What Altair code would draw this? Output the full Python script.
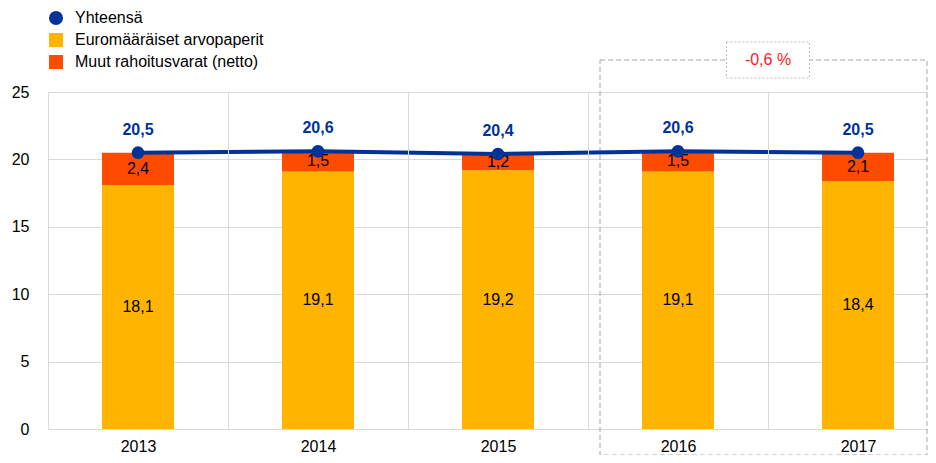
import altair as alt
import pandas as pd

years = ["2013", "2014", "2015", "2016", "2017"]
total = [20.5, 20.6, 20.4, 20.6, 20.5]
euro = [18.1, 19.1, 19.2, 19.1, 18.4]
other = [2.4, 1.5, 1.2, 1.5, 2.1]
series = ["Yhteensä", "Euromääräiset arvopaperit", "Muut rahoitusvarat (netto)"]
colors = ["#003299", "#FFB400", "#FF4B00"]
shapes = ["circle", "square", "square"]
box_start = ["2016"]
box_end = ["2017"]
change_label = ["-0,6 %"]

FONT = "Arial, Liberation Sans, sans-serif"

bars_df = pd.DataFrame({
    "year": years * 2,
    "series": [series[1]] * len(years) + [series[2]] * len(years),
    "value": euro + other,
    "ord": [0] * len(years) + [1] * len(years),
})
tot_df = pd.DataFrame({"year": years, "value": total})
box_df = pd.DataFrame({"start": box_start, "end": box_end, "label": change_label})
leg_df = pd.DataFrame({"series": series})

fmt = "replace(format(datum.value, '.1f'), '.', ',')"

xscale = alt.Scale(domain=years, range=[0, 900], paddingInner=0, paddingOuter=0)
xaxis = alt.Axis(labelFontSize=16, labelColor="#000000", labelFont=FONT, ticks=False,
                 domain=False, grid=True, gridColor="#d9d9d9", tickBand="extent",
                 labelPadding=9, labelAngle=0, title=None)
yscale = alt.Scale(domain=[0, 25], nice=False, zero=True)
yaxis = alt.Axis(values=[0, 5, 10, 15, 20, 25], labelFontSize=16, labelColor="#000000",
                 labelFont=FONT, ticks=False, domain=False, grid=True, gridColor="#d9d9d9",
                 labelPadding=19, title=None)

color_scale = alt.Scale(domain=series, range=colors)
legend = alt.Legend(title=None, orient="none", legendX=0, legendY=-82, symbolSize=196,
                    labelFontSize=16, labelFont=FONT, labelColor="#000000", labelOffset=11,
                    labelLimit=400, rowPadding=6, padding=0, symbolStrokeWidth=0,
                    symbolOpacity=1)


def X(field, **kw):
    return alt.X(field, sort=years, scale=xscale, axis=xaxis, **kw)


def Y(field, **kw):
    return alt.Y(field, scale=yscale, axis=yaxis, **kw)


box = alt.Chart(box_df).mark_rect(
    fill="transparent", stroke="#a6a6a6", strokeWidth=1, strokeDash=[5, 3],
    xOffset=12, x2Offset=-21, yOffset=-32, y2Offset=26,
).encode(
    x=X("start:N", bandPosition=0),
    x2=alt.X2("end:N", bandPosition=1),
    y=alt.Y(datum=25, scale=yscale, axis=yaxis),
    y2=alt.datum(0),
)

bars = alt.Chart(bars_df).mark_bar(size=72).encode(
    x=X("year:N"),
    y=Y("value:Q", stack="zero"),
    color=alt.Color("series:N", scale=color_scale, legend=legend),
    order=alt.Order("ord:Q"),
)

seg_labels = alt.Chart(bars_df).transform_stack(
    stack="value", groupby=["year"], as_=["v0", "v1"], sort=[alt.SortField("ord")]
).transform_calculate(
    mid="(datum.v0 + datum.v1) / 2", lab=fmt
).mark_text(fontSize=16, font=FONT, color="#000000", baseline="middle").encode(
    x=X("year:N"),
    y=Y("mid:Q"),
    text="lab:N",
)

line = alt.Chart(tot_df).mark_line(color=colors[0], strokeWidth=4).encode(
    x=X("year:N"),
    y=Y("value:Q"),
)
points = alt.Chart(tot_df).mark_point(filled=True, size=160, color=colors[0], opacity=1,
                                      shape="circle").encode(
    x=X("year:N"),
    y=Y("value:Q"),
)
tot_labels = alt.Chart(tot_df).transform_calculate(lab=fmt).mark_text(
    fontSize=16, fontWeight="bold", font=FONT, color=colors[0], dy=-23, baseline="middle"
).encode(
    x=X("year:N"),
    y=Y("value:Q"),
    text="lab:N",
)

label_box = alt.Chart(box_df).mark_rect(
    fill="white", stroke="#bfbfbf", strokeWidth=1, strokeDash=[2, 2],
    xOffset=-41.5, x2Offset=41.5, yOffset=-50, y2Offset=-14,
).encode(
    x=X("end:N", bandPosition=0),
    x2=alt.X2("end:N", bandPosition=0),
    y=alt.Y(datum=25, scale=yscale, axis=yaxis),
    y2=alt.datum(25),
)
label_text = alt.Chart(box_df).mark_text(
    fontSize=16, font=FONT, color="#ff2020", dy=-32, baseline="middle"
).encode(
    x=X("end:N", bandPosition=0),
    y=alt.Y(datum=25, scale=yscale, axis=yaxis),
    text="label:N",
)

leg = alt.Chart(leg_df).mark_point(filled=True, opacity=0).encode(
    color=alt.Color("series:N", scale=color_scale, legend=legend),
    shape=alt.Shape("series:N", scale=alt.Scale(domain=series, range=shapes), legend=legend),
)

chart = alt.layer(
    box, bars, seg_labels, line, points, tot_labels, label_box, label_text, leg
).properties(
    width=880, height=337,
    padding={"left": 40, "top": 84, "right": 0, "bottom": 26},
    autosize=alt.AutoSizeParams(type="none"),
).configure_view(stroke=None)

chart.save("out.html", embed_options={"renderer": "svg", "actions": False})
